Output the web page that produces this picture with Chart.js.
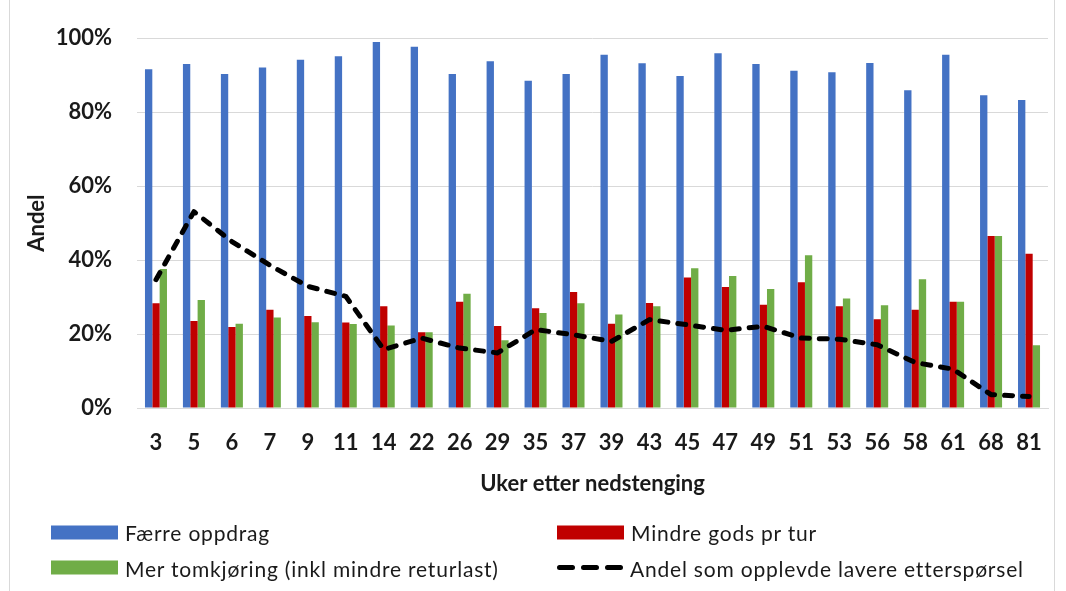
<!DOCTYPE html>
<html>
<head>
<meta charset="utf-8">
<title>Uker etter nedstenging</title>
<script src="https://cdn.jsdelivr.net/npm/chart.js@4/dist/chart.umd.min.js"></script>
<style>
  html, body { margin: 0; padding: 0; background: #fff; }
  #wrap { position: relative; width: 1066px; height: 591px; overflow: hidden; font-family: Lato, "Open Sans", sans-serif; }
  #frame { position: absolute; left: 9px; top: -2px; width: 1046px; height: 600px; border: 1px solid #d9d9d9; box-sizing: border-box; }
  #c { position: absolute; left: 0; top: 0; }
  .item { position: absolute; display: flex; align-items: center; font-size: 21px; letter-spacing: 0.8px; color: #1a1a1a; white-space: nowrap; transform: translateY(-50%); }
  .swatch { width: 67px; height: 14px; margin-right: 7px; flex: none; }
  .dash { width: 67px; height: 14px; margin-right: 6px; flex: none; }
</style>
</head>
<body>
<div id="wrap">
  <div id="frame"></div>
  <canvas id="c" width="1066" height="591"></canvas>
  <div id="legend"></div>
</div>
<script>
// Weeks after the lockdown
const weeks = ['3','5','6','7','9','11','14','22','26','29','35','37','39','43','45','47','49','51','53','56','58','61','68','81'];

// Share of respondents (%)
const faerreOppdrag = [91.6, 93.0, 90.3, 92.1, 94.2, 95.1, 99.0, 97.7, 90.3, 93.8, 88.5, 90.3, 95.5, 93.2, 89.8, 95.9, 93.0, 91.2, 90.8, 93.3, 85.9, 95.5, 84.6, 83.3];
const mindreGods    = [28.3, 23.5, 21.9, 26.6, 24.9, 23.1, 27.5, 20.5, 28.7, 22.2, 27.0, 31.4, 22.8, 28.4, 35.3, 32.7, 27.9, 34.0, 27.5, 24.0, 26.6, 28.7, 46.5, 41.7];
const merTomkjoring = [37.6, 29.2, 22.8, 24.5, 23.2, 22.7, 22.3, 20.5, 30.9, 18.3, 25.7, 28.3, 25.3, 27.5, 37.8, 35.7, 32.2, 41.3, 29.6, 27.8, 34.8, 28.7, 46.5, 17.0];
const andelLavere   = [34.7, 53.1, 45.0, 38.6, 32.9, 30.2, 15.8, 18.9, 16.2, 14.9, 21.2, 19.8, 18.0, 23.9, 22.5, 21.0, 22.1, 18.9, 18.6, 17.1, 12.3, 10.5, 3.6, 3.1];

// Y axis ticks
const yTicks = [0, 20, 40, 60, 80, 100];

const seriesNames = {
  faerre: 'Færre oppdrag',
  mindre: 'Mindre gods pr tur',
  tom: 'Mer tomkjøring (inkl mindre returlast)',
  andel: 'Andel som opplevde lavere etterspørsel'
};
const colors = { faerre: '#4472C4', mindre: '#C00000', tom: '#70AD47', andel: '#000000' };

const tickFont = { family: 'Lato', size: 22, weight: 'bold' };
const textColor = '#1a1a1a';
const gridColor = '#d9d9d9';

const chart = new Chart(document.getElementById('c'), {
  data: {
    labels: weeks,
    datasets: [
      {
        type: 'line', label: seriesNames.andel, data: andelLavere,
        borderColor: colors.andel, borderWidth: 5, borderDash: [8, 10],
        borderCapStyle: 'round', borderJoinStyle: 'round',
        pointRadius: 0, fill: false, tension: 0, order: 0
      },
      { type: 'bar', label: seriesNames.faerre, data: faerreOppdrag, backgroundColor: colors.faerre, order: 1 },
      { type: 'bar', label: seriesNames.mindre, data: mindreGods, backgroundColor: colors.mindre, order: 1 },
      { type: 'bar', label: seriesNames.tom, data: merTomkjoring, backgroundColor: colors.tom, order: 1 }
    ]
  },
  options: {
    responsive: false,
    animation: false,
    devicePixelRatio: 1,
    layout: { padding: { top: 37, left: 24, right: 18, bottom: 94 } },
    datasets: { bar: { categoryPercentage: 0.58, barPercentage: 1 } },
    plugins: { legend: { display: false }, tooltip: { enabled: false } },
    scales: {
      x: {
        grid: { display: false, drawTicks: false },
        border: { display: true, color: gridColor },
        ticks: { font: tickFont, color: textColor, padding: 22, maxRotation: 0, autoSkip: false },
        title: { display: true, text: 'Uker etter nedstenging', font: tickFont, color: textColor, padding: 0 },
        afterFit: s => { s.height = 89; }
      },
      y: {
        min: 0, max: 100,
        afterBuildTicks: s => { s.ticks = yTicks.map(v => ({ value: v })); },
        ticks: { font: tickFont, color: textColor, padding: 25, callback: v => v + '%' },
        grid: { color: gridColor, lineWidth: 1, drawTicks: false },
        border: { display: false },
        title: { display: true, text: 'Andel', font: tickFont, color: textColor, padding: 0 },
        afterFit: s => { s.width = 113; }
      }
    }
  }
});

// Two-column legend below the plot
const legendItems = [
  { key: 'faerre', left: 51, top: 532 },
  { key: 'mindre', left: 557, top: 532 },
  { key: 'tom', left: 51, top: 567.5 },
  { key: 'andel', left: 557, top: 567.5 }
];
const legend = document.getElementById('legend');
legendItems.forEach(it => {
  const el = document.createElement('div');
  el.className = 'item';
  el.style.left = it.left + 'px';
  el.style.top = it.top + 'px';
  if (it.key === 'andel') {
    el.innerHTML = '<svg class="dash" viewBox="0 0 67 14"><line x1="2.5" y1="7" x2="64.5" y2="7" stroke="#000" stroke-width="5" stroke-linecap="round" stroke-dasharray="13 11"/></svg>';
  } else {
    const sw = document.createElement('div');
    sw.className = 'swatch';
    sw.style.background = colors[it.key];
    el.appendChild(sw);
  }
  const t = document.createElement('span');
  t.textContent = seriesNames[it.key];
  el.appendChild(t);
  legend.appendChild(el);
});
</script>
</body>
</html>
